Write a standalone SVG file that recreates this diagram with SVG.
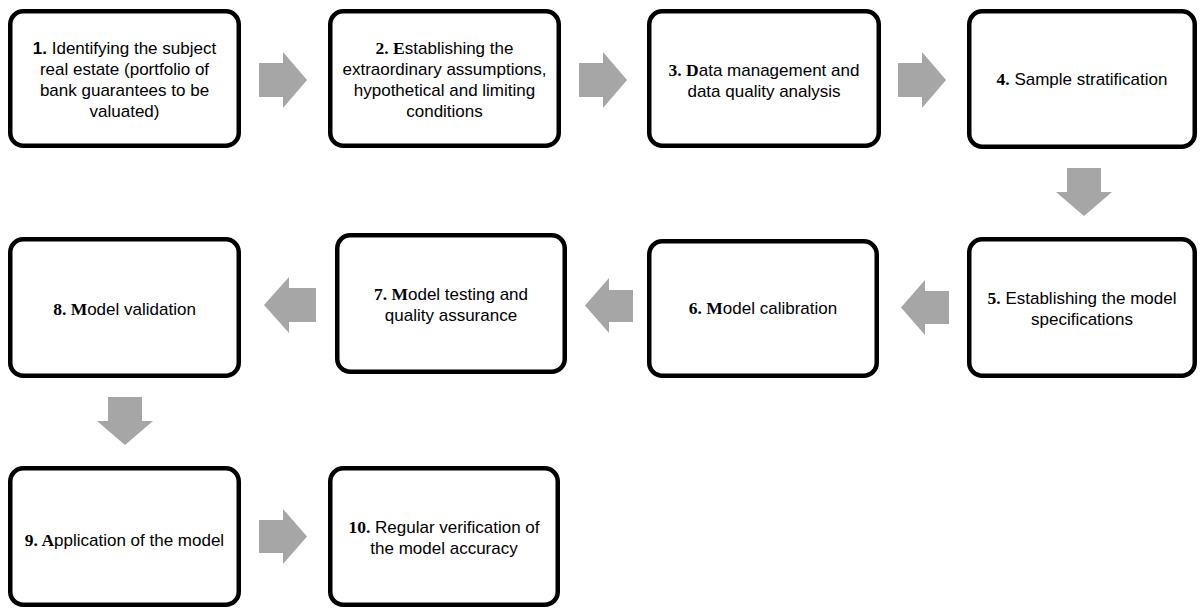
<svg xmlns="http://www.w3.org/2000/svg" width="1200" height="608" viewBox="0 0 1200 608">
<style>
.box{fill:#fff;stroke:#000;stroke-width:4.5}
.arr{fill:#a6a6a6;stroke:none}
text{font-family:"Liberation Sans",Arial,sans-serif;font-size:17px;fill:#000;text-anchor:middle}
.bs{font-weight:bold}
.bf{font-family:"Liberation Serif","Times New Roman",serif;font-weight:bold;font-size:17.5px}
</style>
<rect width="1200" height="608" fill="#fff"/>
<g id="connectors">
<path class="arr" d="M259,63 H283 V52 L307,80 L283,108 V97 H259 Z"/>
<path class="arr" d="M579,63 H603 V52 L627,80 L603,108 V97 H579 Z"/>
<path class="arr" d="M898,63 H922 V52 L946,80 L922,108 V97 H898 Z"/>
<path class="arr" d="M1067,168 H1101 V192 H1112 L1084,216 L1056,192 H1067 Z"/>
<path class="arr" d="M949,291 H925 V280 L901,307.5 L925,335 V324 H949 Z"/>
<path class="arr" d="M633,290 H609 V278 L585,305.5 L609,333 V322 H633 Z"/>
<path class="arr" d="M316,288 H289 V277 L264,305 L289,333 V322 H316 Z"/>
<path class="arr" d="M108,397 H142 V421 H153 L125,445 L97,421 H108 Z"/>
<path class="arr" d="M259,520 H283 V509 L307,536.5 L283,564 V553 H259 Z"/>
</g>
<g id="n1">
<rect class="box" x="10.25" y="11.25" width="228.5" height="134.5" rx="13"/>
<text><tspan x="124.5" y="54" class="bs">1.</tspan><tspan> Identifying the subject</tspan><tspan x="124.5" y="75">real estate (portfolio of</tspan><tspan x="124.5" y="96">bank guarantees to be</tspan><tspan x="124.5" y="117">valuated)</tspan></text>
</g>
<g id="n2">
<rect class="box" x="330.25" y="11.25" width="228.5" height="134.5" rx="13"/>
<text><tspan x="444.5" y="54" class="bf">2. E</tspan><tspan>stablishing the</tspan><tspan x="444.5" y="75">extraordinary assumptions,</tspan><tspan x="444.5" y="96">hypothetical and limiting</tspan><tspan x="444.5" y="117">conditions</tspan></text>
</g>
<g id="n3">
<rect class="box" x="649.25" y="11.25" width="229.5" height="134.5" rx="13"/>
<text><tspan x="764" y="76" class="bf">3. D</tspan><tspan>ata management and</tspan><tspan x="764" y="97">data quality analysis</tspan></text>
</g>
<g id="n4">
<rect class="box" x="969.25" y="11.25" width="225.5" height="135.5" rx="13"/>
<text><tspan x="1082" y="85" class="bf">4.</tspan><tspan> Sample stratification</tspan></text>
</g>
<g id="n5">
<rect class="box" x="969.25" y="239.25" width="225.5" height="136.5" rx="13"/>
<text><tspan x="1082" y="304" class="bf">5.</tspan><tspan> Establishing the model</tspan><tspan x="1082" y="325">specifications</tspan></text>
</g>
<g id="n6">
<rect class="box" x="649.25" y="241.25" width="227.5" height="134.5" rx="13"/>
<text><tspan x="763" y="314" class="bf">6. M</tspan><tspan>odel calibration</tspan></text>
</g>
<g id="n7">
<rect class="box" x="337.25" y="235.25" width="227.5" height="136.5" rx="13"/>
<text><tspan x="451" y="299.5" class="bf">7. M</tspan><tspan>odel testing and</tspan><tspan x="451" y="320.5">quality assurance</tspan></text>
</g>
<g id="n8">
<rect class="box" x="10.25" y="239.25" width="228.5" height="136.5" rx="13"/>
<text><tspan x="124.5" y="315" class="bf">8. M</tspan><tspan>odel validation</tspan></text>
</g>
<g id="n9">
<rect class="box" x="10.25" y="468.25" width="228.5" height="136.5" rx="13"/>
<text><tspan x="124.5" y="546" class="bf">9. A</tspan><tspan>pplication of the model</tspan></text>
</g>
<g id="n10">
<rect class="box" x="330.25" y="468.25" width="227.5" height="136.5" rx="13"/>
<text><tspan x="444" y="533" class="bf">10.</tspan><tspan> Regular verification of</tspan><tspan x="444" y="554">the model accuracy</tspan></text>
</g>
</svg>
